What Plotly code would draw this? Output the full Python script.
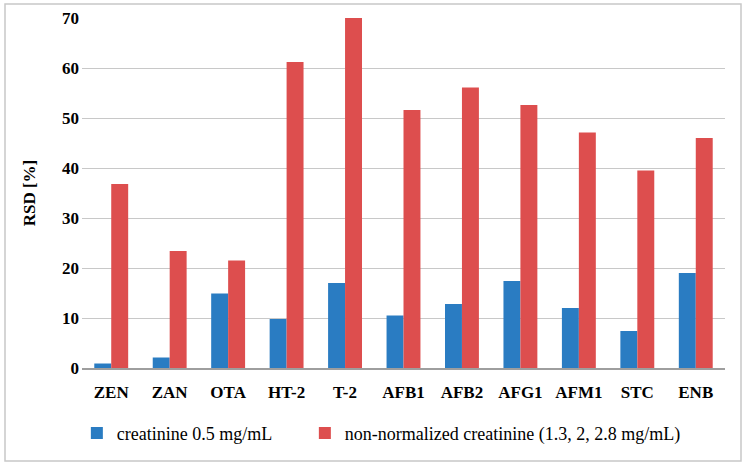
import plotly.graph_objects as go

categories = ["ZEN", "ZAN", "OTA", "HT-2", "T-2", "AFB1", "AFB2", "AFG1", "AFM1", "STC", "ENB"]
creatinine_05 = [0.9, 2.1, 14.9, 9.8, 17.0, 10.5, 12.8, 17.4, 12.0, 7.4, 19.0]
non_normalized = [36.8, 23.4, 21.5, 61.2, 70.0, 51.6, 56.1, 52.6, 47.1, 39.5, 46.0]
y_ticks = [0, 10, 20, 30, 40, 50, 60, 70]

serif = "Liberation Serif, DejaVu Serif, serif"

fig = go.Figure()
fig.add_trace(go.Bar(x=categories, y=creatinine_05, name="creatinine 0.5 mg/mL",
                     marker=dict(color="#2A7CC2", line=dict(width=0)), legend="legend"))
fig.add_trace(go.Bar(x=categories, y=non_normalized, name="non-normalized creatinine (1.3, 2, 2.8 mg/mL)",
                     marker=dict(color="#DD4E4E", line=dict(width=0)), legend="legend2"))

leg_common = dict(orientation="h", xanchor="left", yanchor="top", itemwidth=30,
                  font=dict(family=serif, size=18, color="#000"), bgcolor="rgba(0,0,0,0)")

fig.update_layout(
    width=747, height=468,
    paper_bgcolor="white", plot_bgcolor="white",
    margin=dict(l=82, r=22, t=18, b=100, autoexpand=False),
    barmode="group", bargap=0.42, bargroupgap=0,
    font=dict(family=serif, color="#000000", size=17),
    showlegend=True,
    legend=dict(x=-0.008, y=-0.134, **leg_common),
    legend2=dict(x=-0.008 + 228/643, y=-0.134, **leg_common),
    shapes=[dict(type="rect", xref="paper", yref="paper",
                 x0=-77/643, x1=(741-82)/643, y0=-(461-368)/350, y1=(368-4)/350,
                 line=dict(color="#C8C8C8", width=1.5), fillcolor="rgba(0,0,0,0)")],
)
fig.update_xaxes(showgrid=False, showline=True, linecolor="#9E9E9E", linewidth=1.5,
                 ticks="", automargin=False,
                 tickfont=dict(family=serif, size=17, color="#000", weight="bold"),
                 ticklabelstandoff=8)
fig.update_yaxes(range=[0, 70], tickvals=y_ticks, showgrid=True, gridcolor="#C8C8C8",
                 gridwidth=1.3, zeroline=False, showline=False, ticks="", automargin=False,
                 tickfont=dict(family=serif, size=17, color="#000", weight="bold"),
                 ticklabelstandoff=2,
                 title=dict(text="<b>RSD [%]</b>", font=dict(family=serif, size=17, color="#000"), standoff=22))

fig.write_html("out.html", config={"displayModeBar": False},
               post_script="document.body.style.margin='0';")
